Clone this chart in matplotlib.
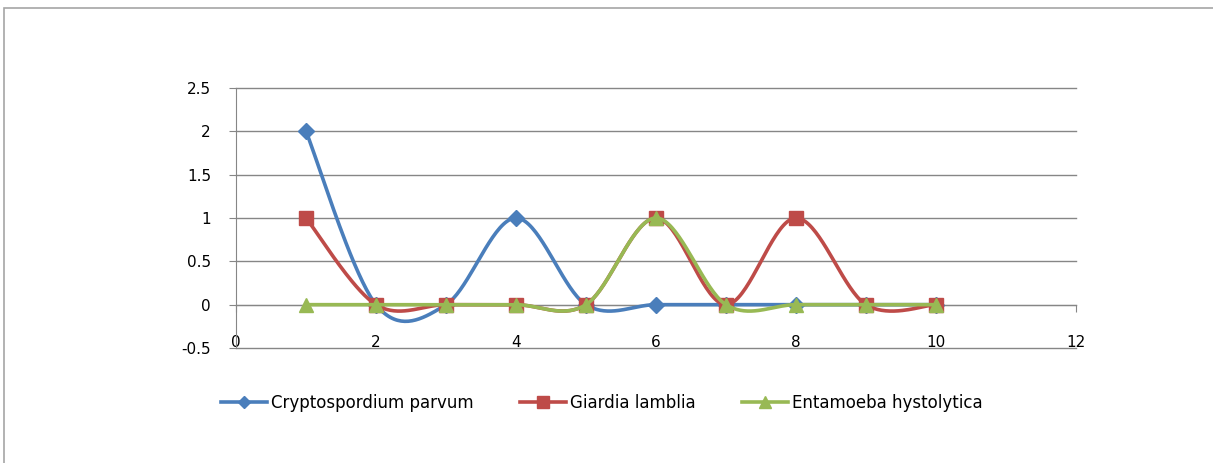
import numpy as np
import matplotlib.pyplot as plt
from matplotlib.lines import Line2D
from matplotlib.patches import Rectangle

plt.rcParams['font.family'] = ['DejaVu Sans']

x = [1, 2, 3, 4, 5, 6, 7, 8, 9, 10]
crypto = [2, 0, 0, 1, 0, 0, 0, 0, 0, 0]
giardia = [1, 0, 0, 0, 0, 1, 0, 1, 0, 0]
entamoeba = [0, 0, 0, 0, 0, 1, 0, 0, 0, 0]

names = ['Cryptospordium parvum', 'Giardia lamblia', 'Entamoeba hystolytica']
colors = ['#4A7EBB', '#BE4B48', '#98B954']
markers = ['D', 's', '^']
msizes = [8, 10, 10.5]


# catmull-rom style smoothing, like a spreadsheet "smoothed line"
def smooth(px, py, n=40):
    px = np.asarray(px, float)
    py = np.asarray(py, float)
    ex = np.concatenate([[px[0]], px, [px[-1]]])
    ey = np.concatenate([[py[0]], py, [py[-1]]])
    out_x, out_y = [], []
    t = np.linspace(0, 1, n)
    h00 = 2 * t**3 - 3 * t**2 + 1
    h10 = t**3 - 2 * t**2 + t
    h01 = -2 * t**3 + 3 * t**2
    h11 = t**3 - t**2
    for i in range(1, len(px)):
        mx0 = (ex[i + 1] - ex[i - 1]) / 2
        my0 = (ey[i + 1] - ey[i - 1]) / 2
        mx1 = (ex[i + 2] - ex[i]) / 2
        my1 = (ey[i + 2] - ey[i]) / 2
        out_x.append(h00 * ex[i] + h10 * mx0 + h01 * ex[i + 1] + h11 * mx1)
        out_y.append(h00 * ey[i] + h10 * my0 + h01 * ey[i + 1] + h11 * my1)
    return np.concatenate(out_x), np.concatenate(out_y)


fig = plt.figure(figsize=(12.13, 4.63), dpi=100)
ax = fig.add_axes([236 / 1213, 1 - 348 / 463, 840 / 1213, 260 / 463])

grid_c = '#868686'
for i, (ys, c, m, ms) in enumerate(zip([crypto, giardia, entamoeba], colors, markers, msizes)):
    sx, sy = smooth(x, ys)
    ax.plot(sx, sy, color=c, lw=2.6, zorder=3 + i, solid_capstyle='round')
    ax.plot(x, ys, ls='none', marker=m, ms=ms, color=c, mec=c, zorder=3 + i)

ax.set_xlim(0, 12)
ax.set_ylim(-0.5, 2.5)
ax.set_xticks(np.arange(0, 13, 2))
ax.set_yticks(np.arange(-0.5, 2.6, 0.5))
ax.set_yticklabels(['-0.5', '0', '0.5', '1', '1.5', '2', '2.5'])
ax.grid(axis='y', color=grid_c, lw=1)
for gl in ax.get_ygridlines():
    gl.set_clip_on(False)
ax.set_axisbelow(True)

for s in ['top', 'right']:
    ax.spines[s].set_visible(False)
ax.spines['bottom'].set_position(('data', 0))
ax.spines['bottom'].set_color(grid_c)
ax.spines['left'].set_color(grid_c)
ax.tick_params(axis='x', direction='out', length=5, color=grid_c, pad=17, labelsize=11)
ax.tick_params(axis='y', direction='out', length=5, color=grid_c, pad=13, labelsize=11)

handles = [Line2D([], [], color=c, lw=2.6, marker=m, ms=ms * 0.8, mec=c)
           for c, m, ms in zip(colors, markers, msizes)]
fig.legend(handles, names, loc='center', bbox_to_anchor=(602 / 1213, 1 - 403 / 463),
           ncol=3, frameon=False, fontsize=12, handlelength=2.75, handletextpad=0.25,
           columnspacing=2.8)

fig.patches.append(Rectangle((4 / 1213, -0.02), 1.05, 1 - 8 / 463 + 0.02,
                             transform=fig.transFigure, fill=False,
                             edgecolor='#A6A6A6', lw=1.2))

fig.savefig('out.png', dpi=100)
